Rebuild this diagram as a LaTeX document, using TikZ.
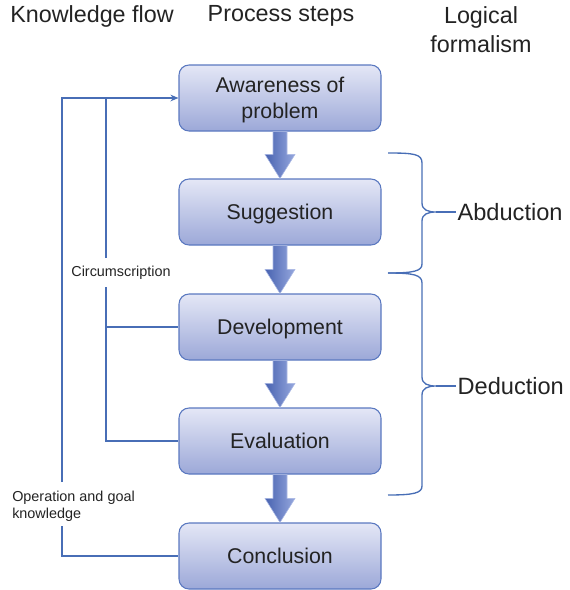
\documentclass[tikz,border=0pt]{standalone}
\usepackage{fontspec}
\setmainfont{Liberation Sans}
\usetikzlibrary{calc,arrows.meta}

\definecolor{ink}{RGB}{35,35,35}
\definecolor{flowblue}{RGB}{72,110,182}
\definecolor{boxedge}{RGB}{90,120,192}
\definecolor{boxtop}{RGB}{228,231,246}
\definecolor{boxbot}{RGB}{156,168,216}
\definecolor{arrdark}{RGB}{58,86,168}
\definecolor{arrlight}{RGB}{150,168,222}

% block arrow from the bottom of one step to the top of the next
\newcommand\stepflow[2]{%
  \path[shade, left color=arrdark!85!arrlight, middle color=arrdark, right color=arrlight,
        draw=arrlight!80!white, line width=0.4pt]
    ($(#1.south)+(-7,0)$) -- ($(#1.south)+(7,0)$) -- ($(#2.north)+(7,-24)$)
    -- ($(#2.north)+(15,-24)$) -- (#2.north) -- ($(#2.north)+(-15,-24)$)
    -- ($(#2.north)+(-7,-24)$) -- cycle;}

\begin{document}
\begin{tikzpicture}[x=0.75pt,y=-0.75pt,
  stepbox/.style={rectangle, rounded corners=7.5pt, draw=boxedge, line width=0.8pt,
    top color=boxtop, bottom color=boxbot, minimum width=151.5pt, minimum height=49.5pt,
    font=\fontsize{16}{19.5}\selectfont, text=ink, align=center, inner sep=0pt,
    text depth=0pt},
  header/.style={font=\fontsize{17.5}{21.75}\selectfont, text=ink, align=center, inner sep=0pt},
  smalllabel/.style={font=\fontsize{10.8}{12.75}\selectfont, text=ink, align=left, inner sep=0pt},
  logiclabel/.style={font=\fontsize{17.7}{20}\selectfont, text=ink, inner sep=1pt, anchor=west},
  flow/.style={draw=flowblue, line width=1.1pt},
  brace/.style={draw=flowblue, line width=1pt}]
\useasboundingbox (0,0) rectangle (569,590);

% column headers
\node[header] (hk) at (92,16) {Knowledge flow};
\node[header] (hp) at (281,16) {Process steps};
\node[header] (hl) at (481,30) {Logical\\formalism};

% process steps
\node[stepbox] (aware) at (280,98)  {Awareness of\\problem};
\node[stepbox] (sugg)  at (280,212) {Suggestion};
\node[stepbox] (dev)   at (280,327) {Development};
\node[stepbox] (eval)  at (280,441) {Evaluation};
\node[stepbox] (conc)  at (280,556) {Conclusion};

\stepflow{aware}{sugg}
\stepflow{sugg}{dev}
\stepflow{dev}{eval}
\stepflow{eval}{conc}

% knowledge flow labels
\node[smalllabel] (circ) at (121,273) {Circumscription};
\node[smalllabel, anchor=west] (opk) at (12,506) {Operation and goal\\knowledge};

% circumscription feedback
\coordinate (ia) at (106,258);
\coordinate (ib) at (106,287);
\draw[flow] (ia) -- (ia |- aware.west);
\draw[flow] (ib) |- (eval.west);
\draw[flow] (ib |- dev.west) -- (dev.west);

% operation and goal knowledge feedback
\coordinate (oa) at (62,482);
\coordinate (ob) at (62,526);
\draw[flow, -{Stealth[length=6pt,width=5pt]}] (oa) |- (aware.west);
\draw[flow] (ob) |- (conc.west);

% logical formalism braces
\node[logiclabel] (abd) at (456,212) {Abduction};
\node[logiclabel] (ded) at (456,386) {Deduction};
\coordinate (atip) at (436,212);
\coordinate (dtip) at (436,386);
\draw[brace] (388,153) .. controls (414,153) and (422,154) .. (422,163) -- (422,203)
  .. controls (422,210) and (428,212) .. (atip)
  .. controls (428,212) and (422,214) .. (422,221) -- (422,264)
  .. controls (422,271) and (414,273) .. (388,273);
\draw[brace] (atip) -- (abd.west);
\draw[brace] (388,273) .. controls (414,273) and (422,275) .. (422,283) -- (422,377)
  .. controls (422,384) and (428,386) .. (dtip)
  .. controls (428,386) and (422,388) .. (422,395) -- (422,486)
  .. controls (422,493) and (414,495) .. (388,495);
\draw[brace] (dtip) -- (ded.west);
\end{tikzpicture}
\end{document}
